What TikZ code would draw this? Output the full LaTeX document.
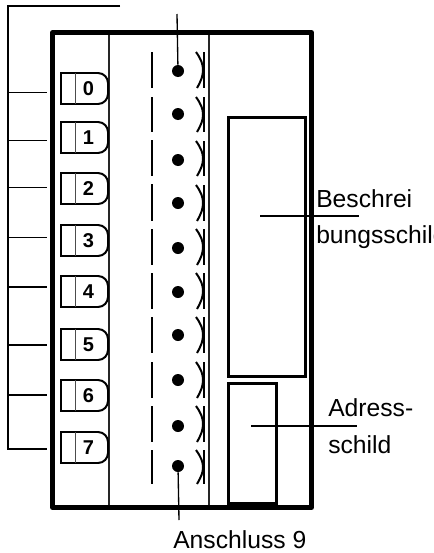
\documentclass[tikz,border=0pt]{standalone}
\usepackage{fontspec}
\setmainfont{Liberation Sans}
\tikzset{
  x=0.75pt,y=-0.75pt,
  frameline/.style={line width=3.75pt,line join=round},
  thinline/.style={line width=1pt},
  midline/.style={line width=1.5pt},
  plate/.style={line width=2pt},
  tagnum/.style={font=\bfseries\fontsize{15}{15}\selectfont,inner sep=0pt},
  label/.style={font=\fontsize{18.5}{18.5}\selectfont,inner sep=0pt,anchor=base west},
  dot/.style={circle,fill=black,minimum size=12pt*0.75,inner sep=0pt},
  dashline/.style={line width=2.2pt},
  spring/.style={line width=1.5pt}
}
\begin{document}
\begin{tikzpicture}
\useasboundingbox (0,0) rectangle (433,553);
\clip (0,0) rectangle (433,553);
% bus
\coordinate (bs) at (8,6);
\coordinate (be) at (120,6);
\draw[thinline] (be) -- (bs) -- (8,449) -- (47,449);
\foreach \y in {92.5,140.5,187.5,237.5,287,345,395} \draw[thinline] (8,\y) -- (47,\y);
% inner partitions
\draw[midline,draw=black!85] (108.7,30) -- (108.7,505);
\draw[midline,draw=black!85] (209,30) -- (209,505);
% frame
\node[draw,frameline,minimum width=0pt,inner sep=0pt,anchor=north west,minimum width=194.25pt,minimum height=356.25pt] (frame) at (50,30) {};
% tags
\foreach \t/\n in {73/0,122/1,173/2,225/3,276/4,329/5,380/6,432/7}{
  \draw[midline] (98,\t) -- (61,\t) -- (61,\t+31) -- (98,\t+31);
  \draw[midline] (98,\t) .. controls (104,\t) and (108,\t+5) .. (108,\t+10) -- (108,\t+21) .. controls (108,\t+26) and (104,\t+31) .. (98,\t+31);
  \draw[thinline,draw=black!70] (75.5,\t) -- (75.5,\t+31);
  \node[tagnum] (tag\n) at (88.5,\t+16) {\n};
}
% dashes
\foreach \a/\b in {52/88,97/132,140/176,184/221,229/265,273/309,317/353,362/398,406/442,450/484}
  \draw[dashline] (152,\a) -- (152,\b);
% dots
\foreach \y/\n in {71/a,114/b,160/c,203/d,248/e,292/f,335/g,380/h,426/i,466/j}
  \node[dot] (d\n) at (178,\y) {};
% springs
\foreach \a/\b in {52/88,97/132,141/176,185/221,229/265,273/309,317/353,362/398,406/442,450/484}{
  \draw[spring] (196,\a) .. controls (201,\a+7) and (203,\a+12) .. (203,(\a/2+\b/2) .. controls (203,\a/2+\b/2+6) and (201,\b-7) .. (197,\b);
  \draw[spring] (204,\a) -- (204,\b);
}
% plates
\node[draw,plate,inner sep=0pt,anchor=north west,minimum width=57.75pt,minimum height=194.25pt] (besch) at (227,116) {};
\node[draw,plate,inner sep=0pt,anchor=north west,minimum width=36pt,minimum height=90pt] (adr) at (227,382) {};
% leaders
\coordinate (t1) at (177,14);
\coordinate (t2) at (179,520);
\coordinate (l1) at (260,216);
\coordinate (l2) at (359,216);
\coordinate (l3) at (251,426);
\coordinate (l4) at (357,426);
\draw[thinline] (t1) -- (da);
\draw[thinline] (dj) -- (t2);
\draw[thinline] (l1) -- (l2);
\draw[thinline] (l3) -- (l4);
% text
\node[label] (tb1) at (316,207) {Beschrei};
\node[label] (tb2) at (316,243) {bungsschild};
\node[label] (ta1) at (328,416) {Adress-};
\node[label] (ta2) at (328,453) {schild};
\node[label] (tc) at (173,548) {Anschluss 9};
\end{tikzpicture}
\end{document}
